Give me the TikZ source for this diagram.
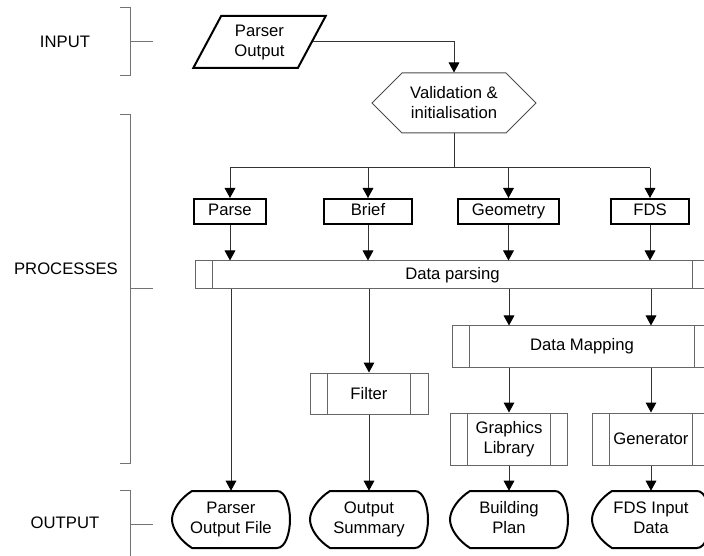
\documentclass[tikz,border=0pt]{standalone}
\usepackage{fontspec}
\setmainfont{Liberation Sans}
\usetikzlibrary{shapes.geometric,shapes.symbols,arrows.meta,calc}

\begin{document}
\begin{tikzpicture}
  [
    x=0.75pt, y=-0.75pt,
    every node/.style =
      {font=\fontsize{12.5}{15}\selectfont, align=center},
    sbox/.style =
      {draw, rectangle, line width=1.5pt, minimum height=18.75pt, inner sep=1pt,
       text height=9pt, text depth=2.5pt},
    pbox/.style =
      {draw=black!60, rectangle, line width=0.75pt, inner sep=1pt,
       path picture={
         \draw[black!60, line width=0.75pt]
           ([xshift=13pt]path picture bounding box.north west) --
           ([xshift=13pt]path picture bounding box.south west)
           ([xshift=-13pt]path picture bounding box.north east) --
           ([xshift=-13pt]path picture bounding box.south east);}},
    inbox/.style =
      {draw, trapezium, trapezium left angle=63, trapezium right angle=117,
       trapezium stretches=true, line width=1.5pt,
       minimum width=99.75pt, minimum height=39pt, inner sep=1pt},
    prep/.style =
      {draw=black!70, signal, signal to=west and east, signal pointer angle=90,
       line width=0.75pt, minimum width=123pt, minimum height=45pt, inner sep=1pt},
    outtext/.style =
      {minimum width=88.5pt, minimum height=42.75pt, inner sep=0pt, text depth=2.5pt},
    outline/.style =
      {draw, line width=1.5pt},
    sline/.style =
      {black!80, line width=0.75pt},
    sarrow/.style =
      {sline, -{Triangle[length=7.5pt, width=8pt, color=black]}},
    bracket/.style =
      {black!55, line width=0.75pt}
  ]

\useasboundingbox (0,0) rectangle (704,556);

\node (lin)   at (65,42)  {INPUT};
\node (lproc) at (66,269) {PROCESSES};
\node (lout)  at (65,523) {OUTPUT};

\draw [bracket] (120,8) -- (130,8) -- (130,76) -- (120,76) (130,42) -- (153,42);
\draw [bracket] (120,115) -- (130,115) -- (130,463) -- (120,463) (130,289) -- (153,289);
\draw [bracket] (120,490) -- (130,490) -- (130,560) (130,524) -- (153,524);

\node[inbox] (pout)  at (259.5,42) {Parser\\Output};
\node[prep]  (valid) at (454,103)  {Validation \&\\initialisation};

\node[sbox, minimum width=54pt]    (parse) at (230,211.5)   {Parse};
\node[sbox, minimum width=66pt]    (brief) at (368,211.5)   {Brief};
\node[sbox, minimum width=75.75pt] (geom)  at (508.5,211.5) {Geometry};
\node[sbox, minimum width=58.5pt]  (fds)   at (650,211.5)   {FDS};

\node[pbox, minimum width=386.25pt, minimum height=21pt]  (parsing) at (452.5,275) {Data parsing};
\node[pbox, minimum width=195pt, minimum height=30.75pt]  (dmap)    at (582,346.5) {Data Mapping};
\node[pbox, minimum width=88.5pt, minimum height=30.75pt] (filter)  at (369,393.5) {Filter};
\node[pbox, minimum width=87.75pt, minimum height=39pt]   (glib)    at (509,439)   {Graphics\\Library};
\node[pbox, minimum width=88.5pt, minimum height=39pt]    (gen)     at (651,439)   {Generator};

\node[outtext] (pfile)   at (231,519.5) {Parser\\Output File};
\node[outtext] (summary) at (369,519.5) {Output\\Summary};
\node[outtext] (plan)    at (509,519.5) {Building\\Plan};
\node[outtext] (fdsdata) at (651,519.5) {FDS Input\\Data};

\foreach \n in {pfile,summary,plan,fdsdata}
  \draw [outline, shift={(\n.center)}]
    (-39,-28.5) .. controls (-51,-21) and (-59,-9) .. (-59,0)
    .. controls (-59,9) and (-51,21) .. (-39,28.5)
    -- (46,28.5) .. controls (55,28.5) and (59,12) .. (59,0)
    .. controls (59,-12) and (55,-28.5) .. (46,-28.5) -- cycle;

\coordinate (split) at (454,168);

\draw [sarrow] (pout.east) -| (valid.north);
\draw [sline] (valid.south) -- (split);
\draw [sline] (split -| parse) -- (split -| fds);

\foreach \n in {parse,brief,geom,fds}
{
  \draw [sarrow] (split -| \n) -- (\n);
  \draw [sarrow] (\n) -- (\n |- parsing.north);
}

\draw [sarrow] (parsing.south -| pfile) -- (pfile.north);
\draw [sarrow] (parsing.south -| filter) -- (filter);
\draw [sarrow] (filter) -- (summary.north);
\draw [sarrow] (parsing.south -| plan) -- (plan |- dmap.north);
\draw [sarrow] (parsing.south -| gen) -- (gen |- dmap.north);
\draw [sarrow] (dmap.south -| glib) -- (glib);
\draw [sarrow] (dmap.south -| gen) -- (gen);
\draw [sarrow] (glib) -- (plan.north);
\draw [sarrow] (gen) -- (fdsdata.north);

\end{tikzpicture}
\end{document}
